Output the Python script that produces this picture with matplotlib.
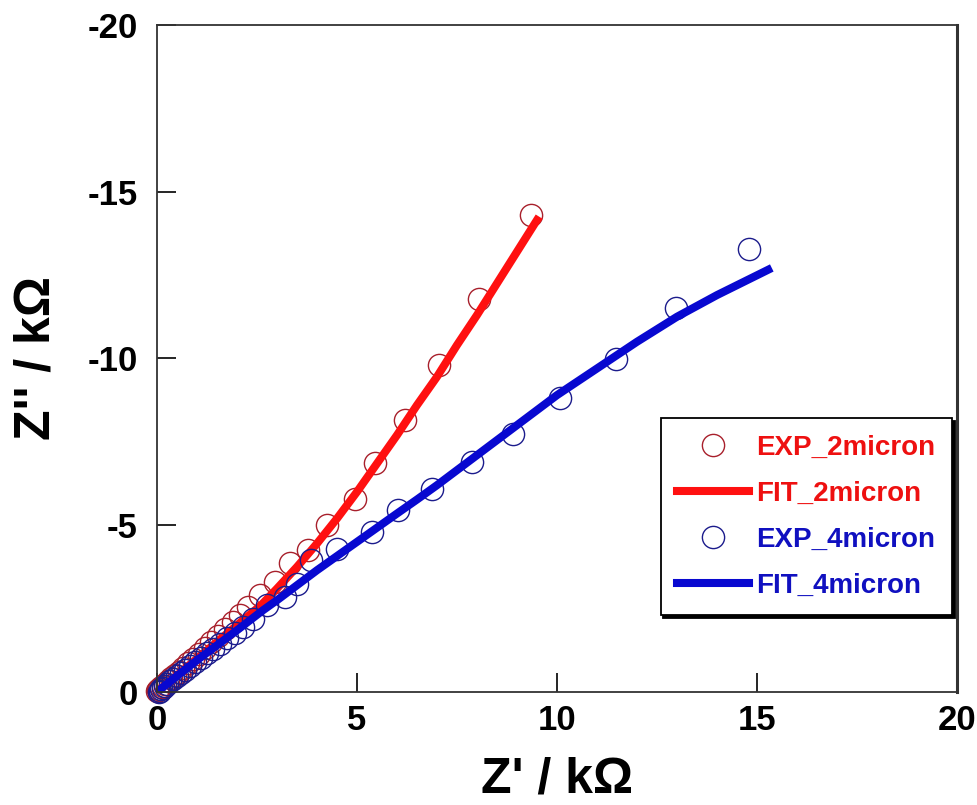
import matplotlib
matplotlib.use("Agg")
import matplotlib.pyplot as plt

plt.rcParams['font.family'] = ['Liberation Sans', 'DejaVu Sans']
plt.rcParams['font.weight'] = 'bold'
plt.rcParams['axes.unicode_minus'] = False

# Nyquist data, Z' and Z'' in kOhm
exp2_re = [0.00, 0.02, 0.05, 0.09, 0.14, 0.20, 0.27, 0.35, 0.44, 0.54,
           0.65, 0.77, 0.90, 1.04, 1.19, 1.35, 1.52, 1.70, 1.89, 2.08,
           2.28, 2.58, 2.95, 3.33, 3.78, 4.25, 4.95, 5.45, 6.20, 7.05,
           8.05, 9.35]
exp2_im = [-0.03, -0.06, -0.10, -0.14, -0.19, -0.25, -0.32, -0.41, -0.50, -0.61,
           -0.73, -0.86, -1.00, -1.15, -1.31, -1.49, -1.68, -1.88, -2.09, -2.31,
           -2.55, -2.90, -3.30, -3.86, -4.25, -5.00, -5.80, -6.86, -8.15, -9.79,
           -11.77, -14.30]

fit2_re = [0, 0.5, 1, 1.5, 2, 2.6, 3, 3.5, 4, 4.5, 5, 5.5, 6, 6.5, 7, 7.5, 8, 8.5, 9, 9.5]
fit2_im = [0, -0.5, -1.0, -1.5, -2.0, -2.6, -3.1, -3.75, -4.45, -5.2, -6.0, -6.85,
           -7.7, -8.6, -9.45, -10.4, -11.3, -12.25, -13.2, -14.15]

exp4_re = [0.05, 0.07, 0.10, 0.14, 0.19, 0.25, 0.32, 0.40, 0.49, 0.59,
           0.70, 0.82, 0.95, 1.09, 1.24, 1.40, 1.57, 1.75, 1.94, 2.14,
           2.40, 2.75, 3.20, 3.50, 3.85, 4.50, 5.38, 6.03, 6.88, 7.87,
           8.90, 10.08, 11.48, 12.98, 14.80]
exp4_im = [0.00, -0.04, -0.08, -0.13, -0.19, -0.25, -0.32, -0.40, -0.48, -0.57,
           -0.67, -0.78, -0.90, -1.03, -1.16, -1.30, -1.45, -1.61, -1.78, -1.95,
           -2.20, -2.60, -2.85, -3.25, -3.95, -4.30, -4.80, -5.45, -6.10, -6.89,
           -7.75, -8.80, -9.97, -11.50, -13.27]

fit4_re = [0, 0.5, 1, 1.5, 2, 2.65, 3, 4, 5, 6, 6.5, 7, 8, 9, 10, 11, 12, 13, 14, 15.28]
fit4_im = [0, -0.48, -0.95, -1.4, -1.85, -2.45, -2.75, -3.65, -4.5, -5.35, -5.77,
           -6.2, -7.1, -8.0, -8.9, -9.7, -10.5, -11.25, -11.9, -12.66]

ticks_x = [0, 5, 10, 15, 20]
ticks_y = [0, -5, -10, -15, -20]

fig = plt.figure(figsize=(9.78, 8.05), dpi=100)
ax = fig.add_axes([0.1605, 0.1404, 0.818, 0.8286])

ax.plot(exp2_re, exp2_im, 'o', ms=16, mfc='none', mec='#a8202c', mew=1.0,
        clip_on=False, label='EXP_2micron')
ax.plot(fit2_re, fit2_im, '-', color='#ff1010', lw=5.8, label='FIT_2micron')
ax.plot(exp4_re, exp4_im, 'o', ms=16, mfc='none', mec='#1c1c8c', mew=1.0,
        clip_on=False, label='EXP_4micron')
ax.plot(fit4_re, fit4_im, '-', color='#0808d0', lw=5.8, label='FIT_4micron')

ax.set_xlim(0, 20)
ax.set_ylim(0, -20)
ax.set_xticks(ticks_x)
ax.set_yticks(ticks_y)
ax.set_xticklabels([str(t) for t in ticks_x])
ax.set_yticklabels([str(t) for t in ticks_y])
ax.tick_params(direction='in', length=14, width=1.2, labelsize=25)
ax.tick_params(axis='x', pad=9)
ax.tick_params(axis='y', pad=14)
for side in ['left', 'bottom', 'top']:
    ax.spines[side].set_linewidth(1.3)
ax.spines['right'].set_linewidth(2.2)
for s in ax.spines.values():
    s.set_color('#333333')

ax.set_xlabel("Z' / k\u03a9", fontsize=36, fontweight='bold', labelpad=14)
ax.set_ylabel("Z'' / k\u03a9", fontsize=36, fontweight='bold', labelpad=20)

leg = ax.legend(loc='upper right', bbox_to_anchor=(0.994, 0.411),
                borderaxespad=0, fontsize=20, handlelength=2.6,
                handletextpad=0.25, labelspacing=0.72, borderpad=0.6,
                fancybox=False, edgecolor='black',
                shadow={'color': 'black', 'alpha': 1.0},
                labelcolor=['#ee1010', '#ee1010', '#1010c0', '#1010c0'])
leg.get_frame().set_linewidth(1.3)

fig.savefig('out.png', dpi=100)
